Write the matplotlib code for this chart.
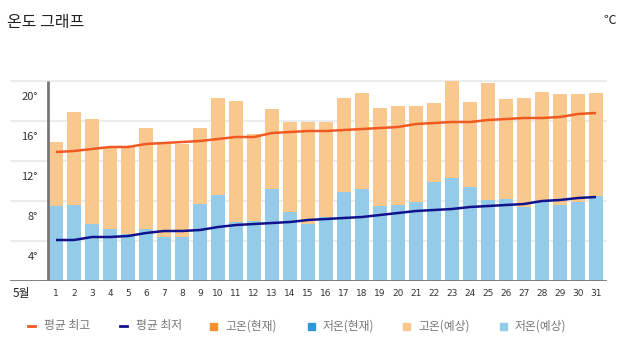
import matplotlib
matplotlib.use("Agg")
import matplotlib.pyplot as plt
from matplotlib.patches import Rectangle
from matplotlib.lines import Line2D
import numpy as np

plt.rcParams['font.family'] = ['Noto Sans CJK KR', 'DejaVu Sans']

days = list(range(1, 32))
day_labels = [str(d) for d in days]
month_label = "5월"
high_forecast = [13.9, 16.9, 16.2, 13.4, 13.4, 15.3, 13.7, 13.7, 15.3, 18.3,
                 18.0, 14.7, 17.2, 15.9, 15.9, 15.9, 18.3, 18.8, 17.3, 17.5,
                 17.5, 17.8, 20.0, 17.9, 19.8, 18.2, 18.3, 18.9, 18.7, 18.7, 18.8]
low_forecast = [7.5, 7.6, 5.7, 5.2, 4.7, 5.2, 4.4, 4.4, 7.7, 8.6,
                5.9, 6.0, 9.2, 6.9, 5.7, 6.4, 8.9, 9.2, 7.5, 7.6,
                7.9, 9.9, 10.3, 9.4, 8.1, 8.2, 7.4, 8.0, 7.6, 7.9, 8.5]
avg_high = [12.9, 13.0, 13.2, 13.4, 13.4, 13.7, 13.8, 13.9, 14.0, 14.2,
            14.4, 14.4, 14.8, 14.9, 15.0, 15.0, 15.1, 15.2, 15.3, 15.4,
            15.7, 15.8, 15.9, 15.9, 16.1, 16.2, 16.3, 16.3, 16.4, 16.7, 16.8]
avg_low = [4.1, 4.1, 4.4, 4.4, 4.5, 4.8, 5.0, 5.0, 5.1, 5.4,
           5.6, 5.7, 5.8, 5.9, 6.1, 6.2, 6.3, 6.4, 6.6, 6.8,
           7.0, 7.1, 7.2, 7.4, 7.5, 7.6, 7.7, 8.0, 8.1, 8.3, 8.4]
grid_values = [4, 8, 12, 16, 20]
y_labels = ["4°", "8°", "12°", "16°", "20°"]
legend_labels = ["평균 최고", "평균 최저", "고온(현재)", "저온(현재)", "고온(예상)", "저온(예상)"]

C_HIGH_LINE = "#F05A22"
C_LOW_LINE = "#12128C"
C_HIGH_NOW = "#F7902F"
C_LOW_NOW = "#2E9BD6"
C_HIGH_FC = "#F9C88F"
C_LOW_FC = "#94CBE9"

W, H = 628, 354
fig = plt.figure(figsize=(W / 100, H / 100), dpi=100)
fig.patch.set_facecolor("white")

left_px, right_px, bottom_px, top_px = 10, 607, 281, 71
ax = fig.add_axes([left_px / W, 1 - bottom_px / H, (right_px - left_px) / W, (bottom_px - top_px) / H])
ax.set_xlim(-1.556, 31.611)
ax.set_ylim(0, 21)
ax.axis("off")

for g in grid_values:
    ax.axhline(g, color="#ECECEC", lw=1.5, zorder=0)

x = np.array(days)
low = np.array(low_forecast)
high = np.array(high_forecast)
ax.bar(x, low, width=0.745, color=C_LOW_FC, zorder=2)
ax.bar(x, high - low, bottom=low, width=0.745, color=C_HIGH_FC, zorder=2)

ax.plot(x, avg_high, color=C_HIGH_LINE, lw=1.8, zorder=4, solid_capstyle="butt")
ax.plot(x, avg_low, color=C_LOW_LINE, lw=1.8, zorder=4, solid_capstyle="butt")

ax.axhline(0, color="#777777", lw=2, zorder=5)
ax.plot([0.556, 0.556], [0, 20], color="#777777", lw=2, zorder=5, solid_capstyle="butt")

for g, lab in zip(grid_values, y_labels):
    ax.text(0.0, g - 1.6, lab, ha="right", va="center", fontsize=8, color="#333333")

for d, lab in zip(days, day_labels):
    ax.text(d, -1.2, lab, ha="center", va="center", fontsize=6.5, color="#333333",
            family=['Liberation Sans Narrow', 'DejaVu Sans'])
ax.text(-0.45, -1.2, month_label, ha="right", va="center", fontsize=8.5, color="#222222")

fig.text(7 / W, 1 - 22 / H, "온도 그래프", ha="left", va="center", fontsize=11.5, color="#222222")
fig.text(616 / W, 1 - 20 / H, "℃", ha="right", va="center", fontsize=9, color="#222222")

colors = [C_HIGH_LINE, C_LOW_LINE, C_HIGH_NOW, C_LOW_NOW, C_HIGH_FC, C_LOW_FC]
marker_x = [28, 120, 210, 308, 403, 500]
ly = 1 - 326 / H
for i, (lab, c, mx) in enumerate(zip(legend_labels, colors, marker_x)):
    if i < 2:
        fig.add_artist(Line2D([mx / W, (mx + 7) / W], [ly, ly], color=c, lw=2))
        tx = mx + 16
    else:
        fig.add_artist(Rectangle((mx / W, ly - 3.5 / H), 7 / W, 7 / H, color=c, transform=fig.transFigure))
        tx = mx + 15
    fig.text(tx / W, ly, lab, ha="left", va="center", fontsize=8.5, color="#777777")

fig.savefig("out.png", dpi=100)
